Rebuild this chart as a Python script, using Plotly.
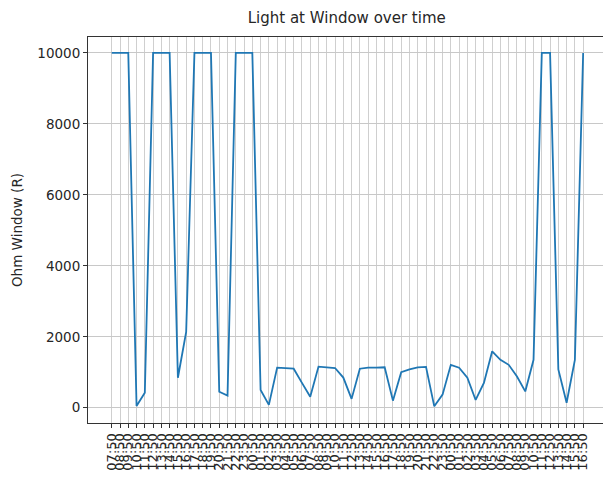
import plotly.graph_objects as go

# Reading times of the window light sensor
timestamps = [
    "07:50", "08:50", "09:50", "10:50", "11:50", "12:50", "13:50", "14:50",
    "15:50", "16:50", "17:50", "18:50", "19:50", "20:50", "21:50", "22:50",
    "23:50", "00:50", "01:50", "02:50", "03:50", "04:50", "05:50", "06:50",
    "07:50", "08:50", "09:50", "10:50", "11:50", "12:50", "13:50", "14:50",
    "15:50", "16:50", "17:50", "18:50", "19:50", "20:50", "21:50", "22:50",
    "23:50", "00:50", "01:50", "02:50", "03:50", "04:50", "05:50", "06:50",
    "07:50", "08:50", "09:50", "10:50", "11:50", "12:50", "13:50", "14:50",
    "15:50", "16:50",
]

# Resistance of the window sensor (ohms)
ohm_window = [
    10000, 10000, 10000, 50, 420, 10000, 10000, 10000, 845, 2140,
    10000, 10000, 10000, 450, 340, 10000, 10000, 10000, 500, 80,
    1130, 1120, 1100, 700, 310, 1160, 1150, 1120, 850, 250,
    1100, 1130, 1130, 1140, 200, 1000, 1080, 1140, 1150, 40,
    370, 1210, 1130, 850, 220, 700, 1590, 1350, 1210, 880,
    460, 1350, 10000, 10000, 1080, 140, 1350, 10000,
]

y_ticks = [0, 2000, 4000, 6000, 8000, 10000]

positions = list(range(len(timestamps)))

fig = go.Figure()
fig.add_trace(go.Scatter(
    x=positions,
    y=ohm_window,
    mode="lines",
    line=dict(color="#1f77b4", width=1.8),
    showlegend=False,
))

font_family = "DejaVu Sans"

fig.update_layout(
    width=603,
    height=477,
    margin=dict(l=88, r=0, t=37, b=54, autoexpand=False),
    paper_bgcolor="white",
    plot_bgcolor="white",
    font=dict(family=font_family, color="#262626", size=12),
    title=dict(
        text="Light at Window over time",
        x=0.575, xanchor="center",
        y=0.962, yanchor="middle",
        font=dict(family=font_family, size=15, color="#262626"),
    ),
)

fig.update_xaxes(
    automargin=False,
    tickmode="array",
    tickvals=positions,
    ticktext=timestamps,
    tickangle=-90,
    tickfont=dict(size=13),
    range=[-2.87, 59.4],
    showgrid=True,
    gridcolor="#cfcfcf",
    gridwidth=1,
    showline=True,
    linecolor="#333333",
    linewidth=1,
    mirror=True,
    ticks="outside",
    ticklen=4,
    tickcolor="#333333",
    zeroline=False,
)

fig.update_yaxes(
    automargin=False,
    title=dict(text="Ohm Window (R)", font=dict(size=13.5), standoff=11),
    tickmode="array",
    tickvals=y_ticks,
    ticktext=[str(v) for v in y_ticks],
    tickfont=dict(size=13.5),
    range=[-430, 10450],
    showgrid=True,
    gridcolor="#c8c8c8",
    gridwidth=1,
    showline=True,
    linecolor="#333333",
    linewidth=1,
    mirror=False,
    ticks="outside",
    ticklen=4,
    tickcolor="#333333",
    zeroline=False,
)

fig.write_html("out.html")
